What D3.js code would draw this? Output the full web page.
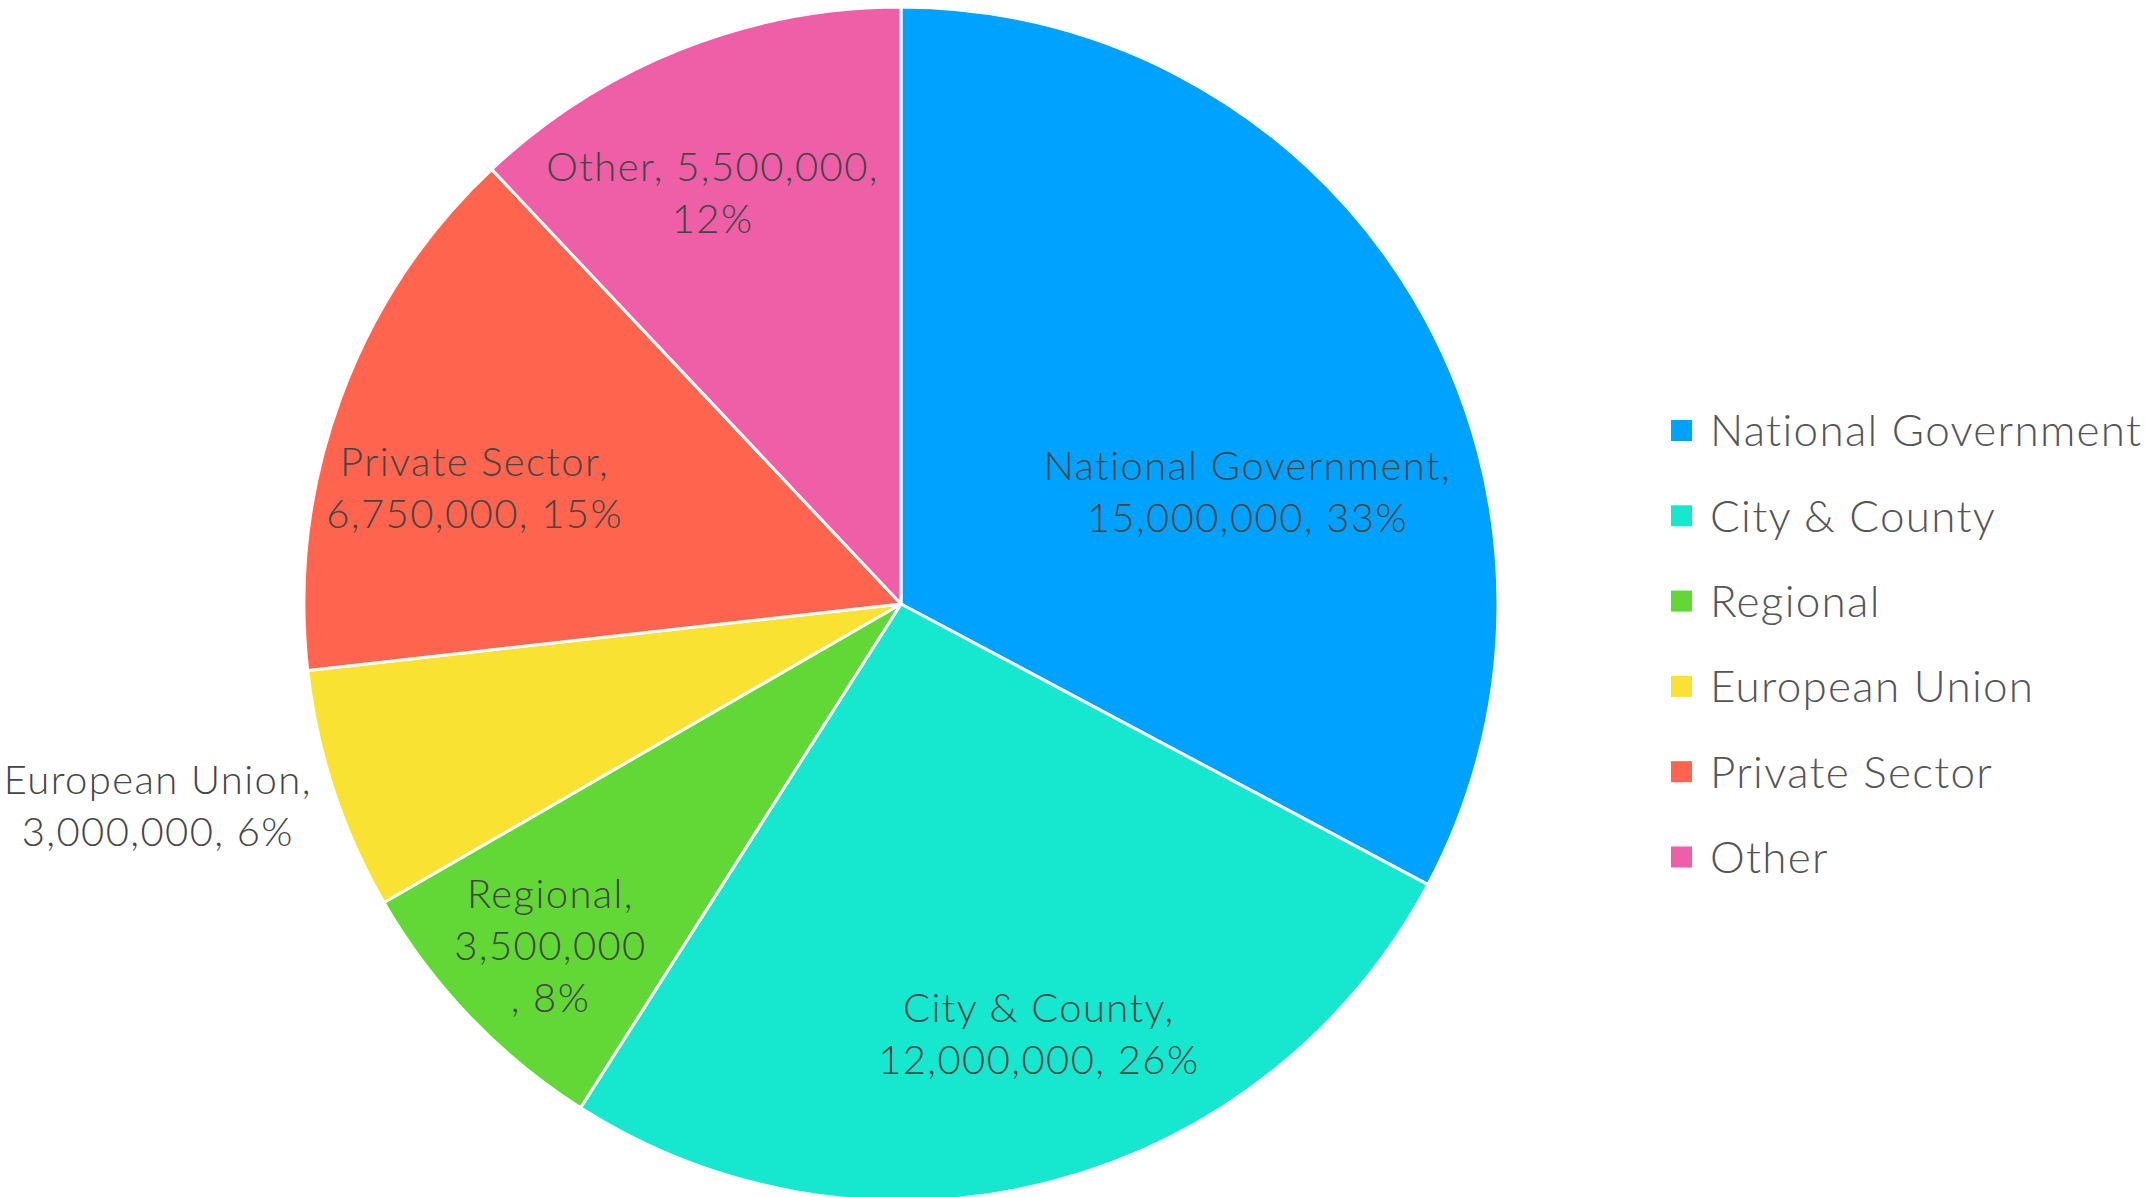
<!DOCTYPE html>
<html><head><meta charset="utf-8">
<script src="https://cdn.jsdelivr.net/npm/d3@7"></script>
<style>html,body{margin:0;padding:0;background:#fff;}svg{display:block;}</style>
</head><body>
<svg id="chart" width="2151" height="1197"></svg>
<script>
const categories = ["National Government","City & County","Regional","European Union","Private Sector","Other"];
const values = [15000000, 12000000, 3500000, 3000000, 6750000, 5500000];
const colors = ["#00A2FF","#16E7CF","#61D836","#FAE232","#FF644E","#EF5FA7"];
// label line breaks as shown in the chart
const labelLines = [
  ["National Government,","15,000,000, 33%"],
  ["City & County,","12,000,000, 26%"],
  ["Regional,","3,500,000",", 8%"],
  ["European Union,","3,000,000, 6%"],
  ["Private Sector,","6,750,000, 15%"],
  ["Other, 5,500,000,","12%"]
];
// label placement: radius as fraction of pie radius, angle offset in degrees
const labelRadius = [0.61, 0.757, 0.82, 1.29, 0.74, 0.757];
const labelAngleOffset = [13, -3, -0.5, 3, -5, -3];

const svg = d3.select("#chart");
const cx = 901, cy = 604, R = 597;
const g = svg.append("g").attr("transform", `translate(${cx},${cy})`);
const data = categories.map((c,i)=>({name:c, value:values[i], color:colors[i], lines:labelLines[i], lr:labelRadius[i], lo:labelAngleOffset[i]}));
const pie = d3.pie().value(d=>d.value).sort(null);
const arc = d3.arc().innerRadius(0).outerRadius(R);
const arcs = pie(data);
g.selectAll("path").data(arcs).join("path")
  .attr("d", arc).attr("fill", d=>d.data.color)
  .attr("stroke", "#fff").attr("stroke-width", 3).attr("stroke-linejoin","round");

const fontFamily = "Lato, 'Open Sans', sans-serif";
const lineH = 52;
arcs.forEach(a=>{
  const mid = (a.startAngle + a.endAngle)/2 + a.data.lo*Math.PI/180;
  const r = R*a.data.lr;
  const x = r*Math.sin(mid), y = -r*Math.cos(mid);
  const n = a.data.lines.length;
  const t = g.append("text").attr("text-anchor","middle")
    .attr("font-family", fontFamily).attr("font-size", 40).attr("font-weight", 300)
    .attr("letter-spacing", 1.4).attr("fill","#454545");
  a.data.lines.forEach((ln,i)=>{
    t.append("tspan").attr("x", x).attr("y", y + (i-(n-1)/2)*lineH).attr("dy","0.35em").text(ln);
  });
});

const legend = svg.append("g").attr("transform","translate(1671,420)");
const items = legend.selectAll("g").data(data).join("g")
  .attr("transform",(d,i)=>`translate(0,${i*85.3})`);
items.append("rect").attr("width",21).attr("height",21).attr("fill",d=>d.color);
items.append("text").attr("x",39).attr("y",11).attr("dy","0.35em")
  .attr("font-family",fontFamily).attr("font-size",44).attr("font-weight",300)
  .attr("letter-spacing",1.3).attr("fill","#555")
  .text(d=>d.name);
</script>
</body></html>
